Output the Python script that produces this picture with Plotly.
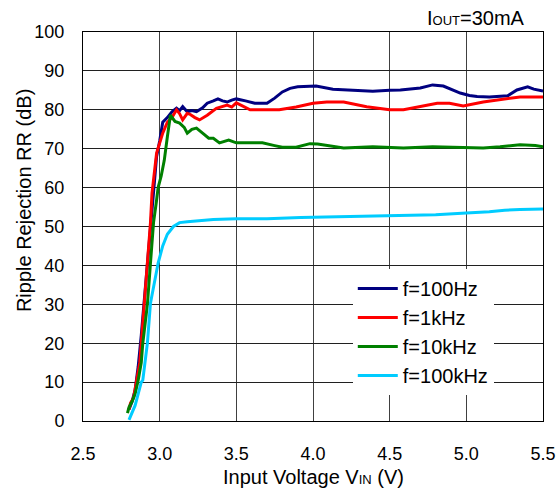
import plotly.graph_objects as go

x_100hz = [2.80,2.82,2.84,2.86,2.88,2.90,2.92,2.94,2.96,2.98,3.00,3.02,3.05,3.08,3.11,3.13,3.15,3.18,3.21,3.24,3.28,3.31,3.35,3.38,3.41,3.44,3.47,3.50,3.56,3.62,3.70,3.75,3.80,3.85,3.90,3.95,4.02,4.13,4.25,4.39,4.50,4.57,4.70,4.78,4.85,4.90,4.96,5.02,5.07,5.15,5.27,5.33,5.40,5.44,5.50]
y_100hz = [3,5,8,14,22,31,41,51,60,68,72,76.8,78,79.5,80.4,79.8,80.8,79.5,79.8,79.5,80.5,81.7,82.3,82.8,82.3,82,82.5,82.8,82.3,81.7,81.7,83,84.6,85.5,85.9,86,86.1,85.3,85.0,84.8,85.0,85.1,85.6,86.4,86.1,85.3,84.3,83.7,83.4,83.3,83.6,85.1,85.9,85.3,84.8]

x_1khz = [2.80,2.81,2.83,2.85,2.87,2.88,2.90,2.92,2.94,2.95,2.98,3.02,3.05,3.08,3.11,3.13,3.15,3.18,3.20,3.23,3.26,3.31,3.37,3.44,3.47,3.50,3.55,3.59,3.70,3.78,3.89,4.00,4.09,4.20,4.35,4.50,4.59,4.70,4.81,4.89,4.98,5.11,5.20,5.27,5.35,5.50]
y_1khz = [3,4.6,6,10.5,15,20,30,41,51,58.6,68.9,74,76.8,78,80,79,77.4,79.1,78.8,78,77.4,78.6,80.4,81.2,80.7,81.8,80.8,80,80,80,80.7,81.7,82,82,80.8,80,80,80.8,81.7,81.7,81,82,82.5,83,83.3,83.3]

x_10khz = [2.79,2.80,2.82,2.84,2.86,2.88,2.89,2.92,2.94,2.96,2.98,2.99,3.01,3.03,3.05,3.07,3.10,3.13,3.16,3.18,3.21,3.24,3.28,3.32,3.35,3.39,3.45,3.50,3.57,3.67,3.75,3.80,3.89,3.98,4.03,4.10,4.20,4.39,4.59,4.78,5.00,5.11,5.22,5.35,5.45,5.50]
y_10khz = [2,3.5,5,7,10.5,15,20,30,40.6,51,56.8,60,63,67,73,78.6,77,76.6,75.5,74,75,75.3,74,72.7,72.7,71.5,72.2,71.5,71.5,71.5,70.8,70.4,70.4,71.3,71.2,70.8,70.2,70.5,70.2,70.5,70.2,70.2,70.5,71,70.8,70.5]

x_100khz = [2.80,2.82,2.84,2.86,2.88,2.89,2.92,2.94,2.97,2.99,3.02,3.05,3.09,3.13,3.18,3.25,3.35,3.50,3.70,3.92,4.20,4.50,4.80,5.00,5.15,5.25,5.35,5.50]
y_100khz = [0.3,2,4,7,10,10.5,20,30.3,36,40.6,45,48,50,51,51.2,51.5,51.8,52,52,52.3,52.5,52.7,53,53.5,53.8,54.2,54.4,54.5]

names = ["f=100Hz", "f=1kHz", "f=10kHz", "f=100kHz"]
colors = ["#000080", "#FF0000", "#008000", "#00CCFF"]
series = [(x_100hz, y_100hz), (x_1khz, y_1khz), (x_10khz, y_10khz), (x_100khz, y_100khz)]

x_ticks = [2.5, 3.0, 3.5, 4.0, 4.5, 5.0, 5.5]
x_ticklabels = ["2.5", "3.0", "3.5", "4.0", "4.5", "5.0", "5.5"]
y_ticks = [0, 10, 20, 30, 40, 50, 60, 70, 80, 90, 100]

fig = go.Figure()
for (xs, ys), n, c in zip(series, names, colors):
    fig.add_trace(go.Scatter(x=xs, y=ys, mode="lines", name=n,
                             line=dict(color=c, width=3)))

FAM = "Liberation Sans, Arial, sans-serif"
font = dict(family=FAM, size=18, color="black")
fig.update_layout(
    width=558, height=488,
    margin=dict(l=83, r=15, t=32, b=67, autoexpand=False),
    paper_bgcolor="white", plot_bgcolor="white",
    font=font,
    showlegend=True,
    legend=dict(x=0.5865, y=0.391, xanchor="left", yanchor="top",
                bgcolor="white", borderwidth=0,
                font=dict(family=FAM, size=20),
                tracegroupgap=0, itemwidth=40),
    xaxis=dict(range=[2.5, 5.5], tickvals=x_ticks, ticktext=x_ticklabels,
               showgrid=True, gridcolor="#404040", gridwidth=1,
               showline=True, linecolor="black", linewidth=1, mirror=True,
               ticks="", zeroline=False, automargin=False,
               ticklabelstandoff=16,
               tickfont=dict(family=FAM, size=18)),
    yaxis=dict(range=[0, 100], tickvals=y_ticks,
               showgrid=True, gridcolor="#202020", gridwidth=1,
               showline=True, linecolor="black", linewidth=1, mirror=True,
               ticks="", zeroline=False, automargin=False,
               ticklabelstandoff=14,
               tickfont=dict(family=FAM, size=18)),
    annotations=[
        dict(text="I<span style='font-size:13px'>OUT</span>=30mA",
             xref="paper", yref="paper", x=0.965, y=1.036,
             xanchor="right", yanchor="middle", showarrow=False,
             font=dict(family=FAM, size=20)),
        dict(text="Input Voltage V<span style='font-size:13px'>IN</span> (V)",
             xref="paper", yref="paper", x=0.5, y=-0.144,
             xanchor="center", yanchor="middle", showarrow=False,
             font=dict(family=FAM, size=20)),
        dict(text="Ripple Rejection RR (dB)", textangle=-90,
             xref="paper", yref="paper", x=-0.128, y=0.5656,
             xanchor="center", yanchor="middle", showarrow=False,
             font=dict(family=FAM, size=20)),
    ],
)

fig.write_html("out.html",
               config={"displayModeBar": False},
               post_script="document.body.style.margin='0';document.body.style.overflow='hidden';")
